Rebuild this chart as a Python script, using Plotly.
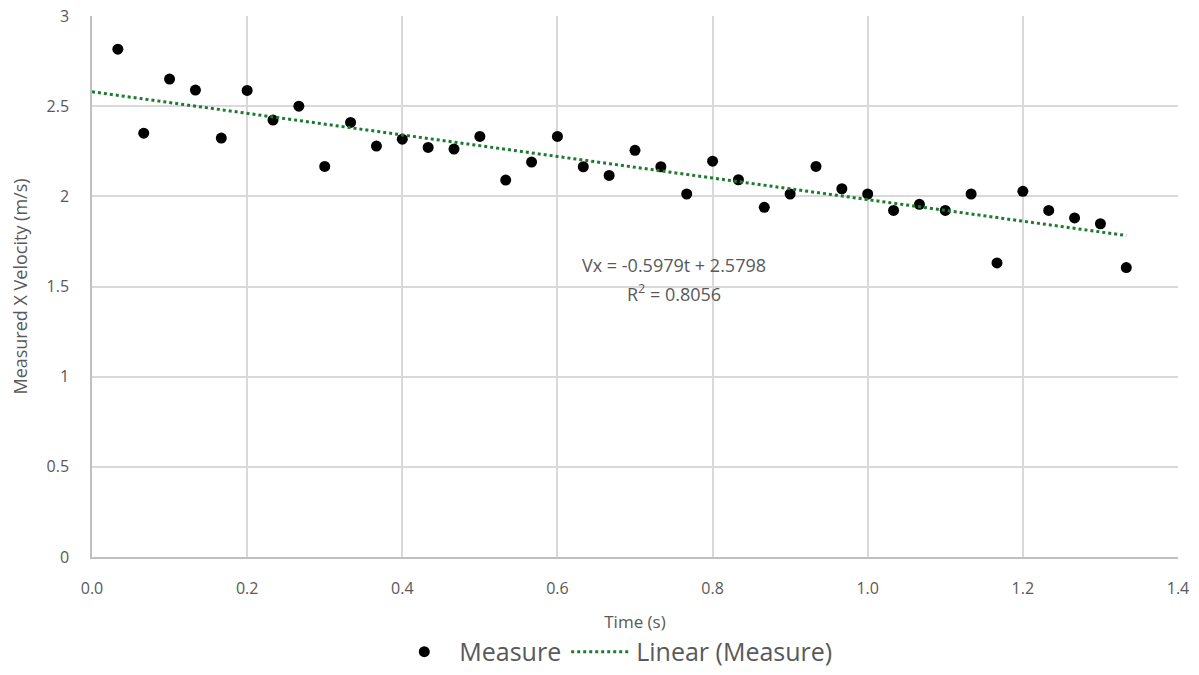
import plotly.graph_objects as go

time_s = [k / 30 for k in range(1, 41)]
velocity = [2.816, 2.350, 2.650, 2.589, 2.323, 2.587, 2.423, 2.500, 2.166, 2.410,
            2.279, 2.317, 2.271, 2.262, 2.332, 2.090, 2.190, 2.332, 2.164, 2.116,
            2.255, 2.164, 2.013, 2.195, 2.092, 1.939, 2.013, 2.166, 2.042, 2.013,
            1.922, 1.956, 1.922, 2.013, 1.631, 2.028, 1.922, 1.880, 1.848, 1.605]
slope = -0.5979
intercept = 2.5798
r_squared = 0.8056
x_ticks = [0, 0.2, 0.4, 0.6, 0.8, 1.0, 1.2, 1.4]
y_ticks = [0, 0.5, 1, 1.5, 2, 2.5, 3]

trend_x = [0, max(time_s)]
trend_y = [intercept + slope * x for x in trend_x]

FONT = "Open Sans"
GREY = "#595959"

fig = go.Figure()
fig.add_trace(go.Scatter(
    x=time_s, y=velocity, mode="markers", name="Measure",
    marker=dict(color="black", size=11),
))
fig.add_trace(go.Scatter(
    x=trend_x, y=trend_y, mode="lines", name="Linear (Measure)",
    line=dict(color="#1d7a30", width=3, dash="dot"),
))

fig.add_annotation(
    x=0.7506, y=1.62, xref="x", yref="y",
    text=f"Vx = {slope}t + {intercept}",
    showarrow=False, align="center",
    font=dict(family=FONT, size=18, color=GREY),
)
fig.add_annotation(
    x=0.7506, y=1.465, xref="x", yref="y",
    text=f"R<sup>2</sup> = {r_squared}",
    showarrow=False, align="center",
    font=dict(family=FONT, size=18, color=GREY),
)

fig.update_layout(
    width=1199, height=675,
    margin=dict(l=92, r=21, t=16, b=118, autoexpand=False),
    paper_bgcolor="white", plot_bgcolor="white",
    font=dict(family=FONT, color=GREY, size=16),
    showlegend=True,
    legend=dict(orientation="h", x=0.48, xanchor="center", y=-0.1755, yanchor="middle",
                font=dict(size=25, color=GREY), itemwidth=60),
    xaxis=dict(
        range=[0, 1.4], tickvals=x_ticks, tickformat=".1f",
        showgrid=True, gridcolor="#d9d9d9", gridwidth=1.5,
        showline=True, linecolor="#bfbfbf", linewidth=1.5, automargin=False,
        zeroline=False, ticks="", ticklabelstandoff=16,
        title=dict(text="Time (s)", font=dict(size=17, color=GREY), standoff=18),
        tickfont=dict(size=16, color=GREY),
    ),
    yaxis=dict(
        range=[0, 3], tickvals=y_ticks,
        showgrid=True, gridcolor="#d9d9d9", gridwidth=1.5,
        showline=True, linecolor="#bfbfbf", linewidth=1.5, automargin=False,
        zeroline=False, ticks="", ticklabelstandoff=18,
        title=dict(text="Measured X Velocity (m/s)", font=dict(size=18, color=GREY), standoff=14),
        tickfont=dict(size=16, color=GREY),
    ),
)

fig.write_html("out.html")
